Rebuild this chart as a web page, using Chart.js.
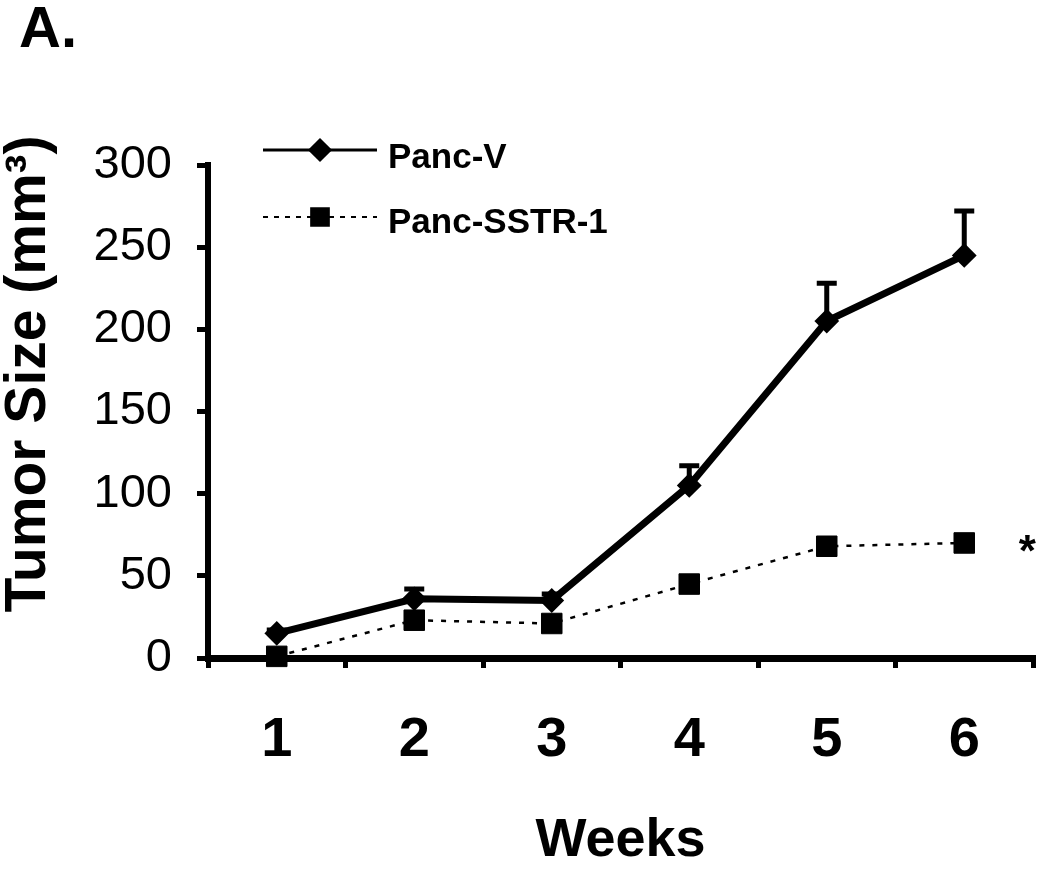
<!DOCTYPE html>
<html>
<head>
<meta charset="utf-8">
<script src="https://cdn.jsdelivr.net/npm/chart.js@4"></script>
<style>
  html, body { margin: 0; padding: 0; background: #fff; }
  canvas { display: block; }
</style>
</head>
<body>
<canvas id="tumorChart" width="1050" height="874"></canvas>
<script>
// Tumor growth data
const weeks = ["1", "2", "3", "4", "5", "6"];
const yTicks = [0, 50, 100, 150, 200, 250, 300];
const pancV = [15, 36, 35, 105, 205, 245];
const pancVErr = [2, 6, 4, 12, 23, 27];
const pancSSTR = [1, 23, 21, 45, 68, 70];
const pancSSTRErr = [1, 2, 2, 2, 2, 2];
const seriesNames = ["Panc-V", "Panc-SSTR-1"];

const FONT = "'Liberation Sans', Arial, Helvetica, sans-serif";

// Upper-only error bars drawn under the markers
const errorBars = {
  id: "errorBars",
  beforeDatasetsDraw(chart) {
    const ctx = chart.ctx;
    const y = chart.scales.y;
    const errs = [pancVErr, pancSSTRErr];
    ctx.save();
    ctx.strokeStyle = "#000";
    ctx.lineWidth = 5;
    chart.data.datasets.forEach((ds, di) => {
      const meta = chart.getDatasetMeta(di);
      meta.data.forEach((pt, i) => {
        const top = y.getPixelForValue(ds.data[i] + errs[di][i]);
        ctx.beginPath();
        ctx.moveTo(pt.x, pt.y);
        ctx.lineTo(pt.x, top);
        ctx.moveTo(pt.x - 10, top);
        ctx.lineTo(pt.x + 10, top);
        ctx.stroke();
      });
    });
    ctx.restore();
  }
};

// Panel letter, y title, legend and significance star
const decorations = {
  id: "decorations",
  afterDraw(chart) {
    const ctx = chart.ctx;
    ctx.save();
    ctx.fillStyle = "#000";

    ctx.font = "bold 58px " + FONT;
    ctx.textAlign = "left";
    ctx.textBaseline = "alphabetic";
    ctx.fillText("A.", 19, 47);

    // y axis title
    ctx.save();
    ctx.translate(29, 374);
    ctx.rotate(-Math.PI / 2);
    ctx.textAlign = "center";
    ctx.textBaseline = "middle";
    ctx.font = "bold 57px " + FONT;
    ctx.fillText("Tumor Size (mm³)", 0, 0);
    ctx.restore();

    // legend
    const rows = [
      { y: 150, dash: [], width: 3, style: "rectRot", r: 10, text: 168 },
      { y: 217, dash: [5, 6], width: 2, style: "rect", r: 12.5, text: 233 }
    ];
    rows.forEach((row, i) => {
      ctx.strokeStyle = "#000";
      ctx.lineWidth = row.width;
      ctx.setLineDash(row.dash);
      ctx.beginPath();
      ctx.moveTo(263, row.y);
      ctx.lineTo(377, row.y);
      ctx.stroke();
      ctx.setLineDash([]);
      Chart.helpers.drawPoint(ctx, {
        pointStyle: row.style, radius: row.r, borderWidth: 1, rotation: 0
      }, 320, row.y);
      ctx.font = "bold 35px " + FONT;
      ctx.textAlign = "left";
      ctx.textBaseline = "alphabetic";
      ctx.fillText(seriesNames[i], 388, row.text);
    });

    // asterisk beside the last Panc-SSTR-1 point
    const meta = chart.getDatasetMeta(1);
    const last = meta.data[meta.data.length - 1];
    ctx.font = "bold 44px " + FONT;
    ctx.textAlign = "center";
    ctx.textBaseline = "middle";
    ctx.fillText("*", last.x + 63, last.y + 11);
    ctx.restore();
  }
};

new Chart(document.getElementById("tumorChart"), {
  type: "line",
  data: {
    labels: weeks,
    datasets: [
      {
        label: seriesNames[0],
        data: pancV,
        borderColor: "#000",
        backgroundColor: "#000",
        borderWidth: 7,
        tension: 0,
        pointStyle: "rectRot",
        pointRadius: 11,
        pointBorderWidth: 2,
        pointBackgroundColor: "#000",
        pointBorderColor: "#000",
        clip: false
      },
      {
        label: seriesNames[1],
        data: pancSSTR,
        borderColor: "#000",
        backgroundColor: "#000",
        borderWidth: 2.5,
        borderDash: [5, 8],
        tension: 0,
        pointStyle: "rect",
        pointRadius: 14.5,
        pointBorderWidth: 1,
        pointBackgroundColor: "#000",
        pointBorderColor: "#000",
        clip: false
      }
    ]
  },
  options: {
    responsive: false,
    animation: false,
    devicePixelRatio: 1,
    layout: { padding: { top: 165, right: 17, left: 0, bottom: 0 } },
    plugins: {
      legend: { display: false },
      tooltip: { enabled: false }
    },
    scales: {
      x: {
        type: "category",
        offset: true,
        grid: {
          offset: true,
          drawOnChartArea: false,
          drawTicks: true,
          tickLength: 10,
          lineWidth: 5,
          color: "#000"
        },
        border: { display: true, width: 7, color: "#000" },
        ticks: {
          color: "#000",
          padding: 39,
          font: { family: FONT, size: 56, weight: "bold" }
        },
        title: {
          display: true,
          text: "Weeks",
          color: "#000",
          padding: { top: 0, bottom: 0 },
          font: { family: FONT, size: 54, weight: "bold" }
        },
        afterFit(scale) { scale.height = 216; }
      },
      y: {
        min: 0,
        max: 300,
        afterBuildTicks(scale) {
          scale.ticks = yTicks.map(v => ({ value: v }));
        },
        grid: {
          drawOnChartArea: false,
          drawTicks: true,
          tickLength: 11,
          lineWidth: 5,
          color: "#000"
        },
        border: { display: true, width: 6, color: "#000" },
        ticks: {
          color: "#000",
          padding: 25,
          font: { family: FONT, size: 47 }
        },
        afterFit(scale) { scale.width = 208; }
      }
    }
  },
  plugins: [errorBars, decorations]
});
</script>
</body>
</html>
